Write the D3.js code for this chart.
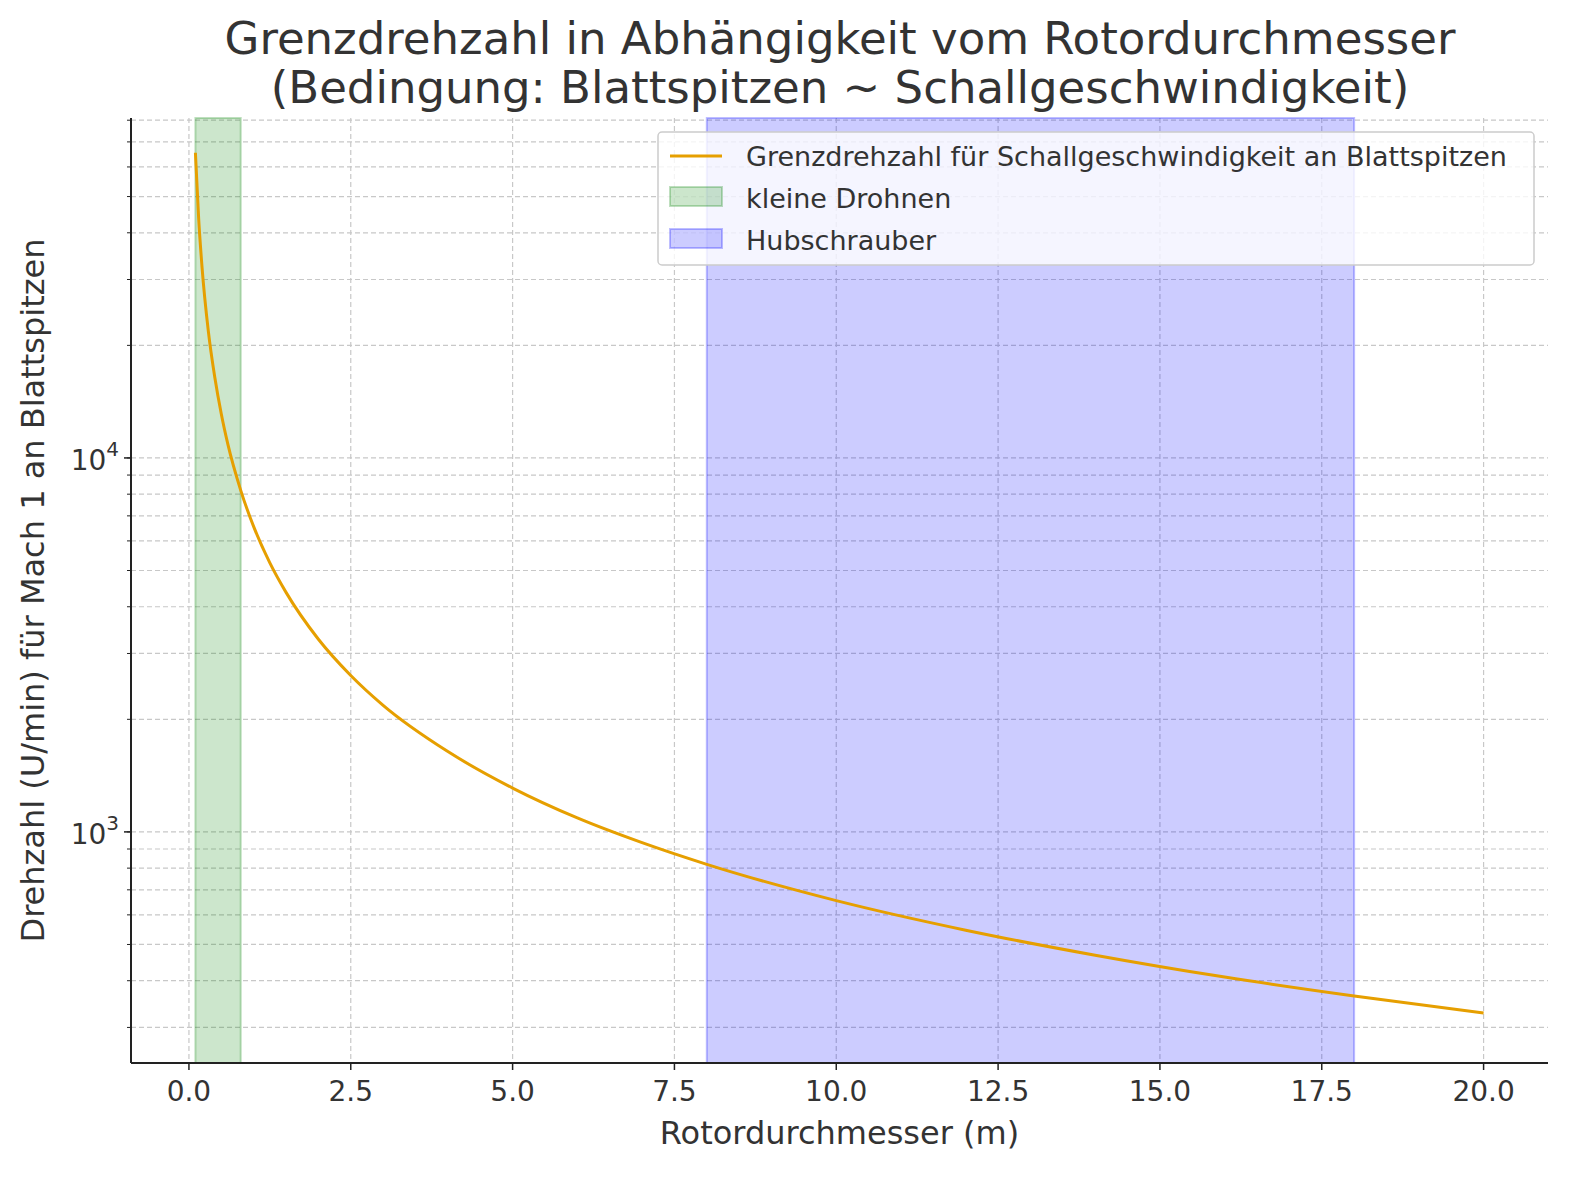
<!DOCTYPE html>
<html><head><meta charset="utf-8">
<script src="https://cdn.jsdelivr.net/npm/d3@7/dist/d3.min.js"></script>
<style>body{margin:0;background:#fff}text{font-family:"DejaVu Sans";fill:#333}</style>
</head><body>
<script>
// Rotordurchmesser (m) and Grenzdrehzahl (U/min)
var diam = [0.1,0.15,0.2,0.3,0.4,0.5,0.6,0.8,1,1.25,1.5,2,2.5,3,4,5,6,7,8,10,12,14,16,18,20];
var rpm = [65500,43700,32750,21800,16400,13100,10900,8190,6550,5240,4370,3275,2620,2180,1640,1310,1090,936,819,655,546,468,409,364,328];
var drones = [0.1, 0.8];
var heli = [8, 18];
var xTicks = [0,2.5,5,7.5,10,12.5,15,17.5,20];

var W = 1580, H = 1179, L = 131, R = 1548, T = 118, B = 1063;
var svg = d3.select("body").append("svg").attr("width", W).attr("height", H);
var x = d3.scaleLinear().domain([-0.895, 20.995]).range([L, R]);
var y = d3.scaleLog().domain([241, 81100]).range([B, T]);

// grid
var minor = [];
[100,1000,10000].forEach(function(d){ for (var k=1;k<10;k++){ var v=d*k; if (v>=241 && v<=81100) minor.push(v); } });
svg.selectAll(".hg").data(minor).enter().append("line")
  .attr("x1", L).attr("x2", R).attr("y1", d => y(d)).attr("y2", d => y(d))
  .attr("stroke", "#c8c8c8").attr("stroke-dasharray", "5,3").attr("stroke-width", 1.2);
svg.selectAll(".vg").data(xTicks).enter().append("line")
  .attr("x1", d => x(d)).attr("x2", d => x(d)).attr("y1", T).attr("y2", B)
  .attr("stroke", "#c8c8c8").attr("stroke-dasharray", "5,3").attr("stroke-width", 1.2);

// spans
svg.append("rect").attr("x", x(drones[0])).attr("width", x(drones[1]) - x(drones[0]))
  .attr("y", T).attr("height", B - T).attr("fill", "rgba(0,128,0,0.2)").attr("stroke", "rgba(0,128,0,0.25)").attr("stroke-width", 2);
svg.append("rect").attr("x", x(heli[0])).attr("width", x(heli[1]) - x(heli[0]))
  .attr("y", T).attr("height", B - T).attr("fill", "rgba(0,0,255,0.2)").attr("stroke", "rgba(0,0,255,0.25)").attr("stroke-width", 2);

// curve
var pts = diam.map((d, i) => [d, rpm[i]]);
svg.append("path").datum(pts)
  .attr("d", d3.line().x(d => x(d[0])).y(d => y(d[1])).curve(d3.curveMonotoneX))
  .attr("fill", "none").attr("stroke", "#e69f00").attr("stroke-width", 3);

// axes
svg.append("line").attr("x1", L).attr("x2", L).attr("y1", T).attr("y2", B).attr("stroke", "#222").attr("stroke-width", 2);
svg.append("line").attr("x1", L).attr("x2", R).attr("y1", B).attr("y2", B).attr("stroke", "#222").attr("stroke-width", 2);
svg.selectAll(".xt").data(xTicks).enter().append("line")
  .attr("x1", d => x(d)).attr("x2", d => x(d)).attr("y1", B).attr("y2", B + 7).attr("stroke", "#222").attr("stroke-width", 1.5);
svg.selectAll(".xl").data(xTicks).enter().append("text")
  .attr("x", d => x(d)).attr("y", B + 38).attr("text-anchor", "middle").attr("font-size", 28)
  .text(d => d.toFixed(1));
svg.selectAll(".yt").data(minor).enter().append("line")
  .attr("x1", L - 4).attr("x2", L).attr("y1", d => y(d)).attr("y2", d => y(d)).attr("stroke", "#222").attr("stroke-width", 1);
[1000, 10000].forEach(function(v){
  svg.append("line").attr("x1", L - 7).attr("x2", L).attr("y1", y(v)).attr("y2", y(v)).attr("stroke", "#222").attr("stroke-width", 1.5);
  var t = svg.append("text").attr("x", L - 12).attr("y", y(v) + 12).attr("text-anchor", "end").attr("font-size", 28);
  t.append("tspan").text("10");
  t.append("tspan").attr("dy", -14).attr("font-size", 20).text(Math.log10(v));
});

svg.append("text").attr("x", (L + R) / 2).attr("y", 1144).attr("text-anchor", "middle").attr("font-size", 32).text("Rotordurchmesser (m)");
svg.append("text").attr("transform", "translate(44," + (T + B) / 2 + ") rotate(-90)").attr("text-anchor", "middle").attr("font-size", 32)
  .text("Drehzahl (U/min) für Mach 1 an Blattspitzen");
svg.append("text").attr("x", 840).attr("y", 54).attr("text-anchor", "middle").attr("font-size", 45).text("Grenzdrehzahl in Abhängigkeit vom Rotordurchmesser");
svg.append("text").attr("x", 840).attr("y", 103).attr("text-anchor", "middle").attr("font-size", 45).text("(Bedingung: Blattspitzen ~ Schallgeschwindigkeit)");

// legend
var lg = svg.append("g");
lg.append("rect").attr("x", 658).attr("y", 132).attr("width", 876).attr("height", 133).attr("rx", 4)
  .attr("fill", "rgba(255,255,255,0.8)").attr("stroke", "#ccc").attr("stroke-width", 1.5);
lg.append("line").attr("x1", 670).attr("x2", 722).attr("y1", 156).attr("y2", 156).attr("stroke", "#e69f00").attr("stroke-width", 3);
lg.append("rect").attr("x", 670).attr("y", 187).attr("width", 52).attr("height", 19).attr("fill", "rgba(0,128,0,0.2)").attr("stroke", "rgba(0,128,0,0.25)").attr("stroke-width", 2);
lg.append("rect").attr("x", 670).attr("y", 229).attr("width", 52).attr("height", 19).attr("fill", "rgba(0,0,255,0.2)").attr("stroke", "rgba(0,0,255,0.25)").attr("stroke-width", 2);
["Grenzdrehzahl für Schallgeschwindigkeit an Blattspitzen", "kleine Drohnen", "Hubschrauber"].forEach(function(s, i){
  lg.append("text").attr("x", 746).attr("y", 166 + i * 42).attr("font-size", 27).text(s);
});
</script>
</body></html>
